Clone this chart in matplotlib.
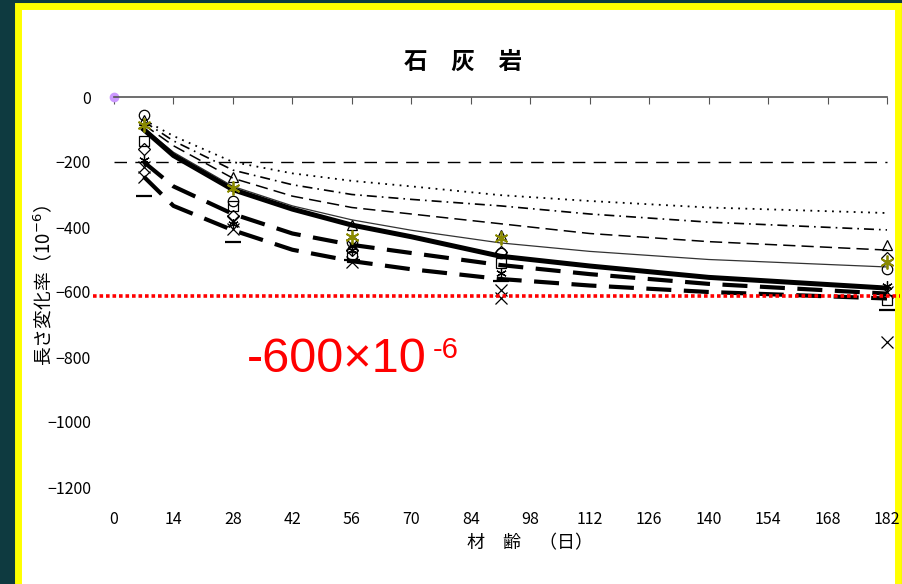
import matplotlib
matplotlib.use("Agg")
import matplotlib.pyplot as plt
from matplotlib.patches import Rectangle

plt.rcParams['font.family'] = ['Noto Sans CJK JP', 'DejaVu Sans']

curve_age = [7, 14, 28, 42, 56, 70, 91, 112, 140, 182]
curve_dotted = [-70, -120, -200, -235, -258, -275, -302, -320, -340, -357]
curve_dashdot = [-75, -135, -225, -270, -300, -315, -335, -360, -385, -409]
curve_dashed = [-85, -150, -250, -305, -340, -360, -390, -420, -445, -471]
curve_thin = [-95, -170, -275, -335, -378, -410, -449, -475, -500, -523]
curve_thick = [-100, -180, -285, -345, -394, -430, -490, -520, -555, -588]
curve_long1 = [-200, -275, -360, -420, -455, -480, -517, -545, -575, -605]
curve_long2 = [-245, -335, -410, -470, -505, -530, -560, -580, -600, -620]

# measured points
pt_age = [7, 28, 56, 91, 182]
pt_circle = [-55, -320, -445, -480, -528]
pt_square = [-135, -335, -492, -510, -625]
pt_diamond = [-160, -365, -470, -478, -495]
pt_triangle = [-70, -245, -395, -425, -455]
pt_star = [-85, -280, -430, -433, -508]
pt_x1 = [-215, -405, -508, -595, -755]
pt_x2 = [-245, -380, -455, -618, -600]
pt_bar = [-305, -446, -500, -565, -655]
pt_ast = [-195, -390, -470, -540, -580]

limit_line = -612
ref_line = -200

fig = plt.figure(figsize=(9.03, 5.84), dpi=100)
fig.patch.set_facecolor('#0e3a40')
fig.patches.append(Rectangle((18 / 903, -0.05), 880 / 903, 1.04, transform=fig.transFigure,
                             facecolor='white', edgecolor='#ffff00', linewidth=5, zorder=-1))

ax = fig.add_axes([114 / 903, 1 - 487 / 584, 773 / 903, 390 / 584])
ax.set_facecolor('none')

k = dict(color='black', clip_on=False)
ax.plot([0, 182], [ref_line, ref_line], lw=1.0, ls=(0, (9, 6)), **k)
ax.plot(curve_age, curve_dotted, lw=1.3, ls=(0, (1, 3)), **k)
ax.plot(curve_age, curve_dashdot, lw=1.2, ls=(0, (6, 3, 1, 3)), **k)
ax.plot(curve_age, curve_dashed, lw=1.1, ls=(0, (8, 4)), **k)
ax.plot(curve_age, curve_thin, lw=0.9, color='#333333', clip_on=False)
ax.plot(curve_age, curve_thick, lw=3.6, **k)
ax.plot(curve_age, curve_long1, lw=3.0, ls=(0, (6, 3)), **k)
ax.plot(curve_age, curve_long2, lw=3.0, ls=(0, (6, 3)), **k)

mk = dict(ls='none', mfc='none', mec='black', mew=0.9, ms=7.5, clip_on=False)
ax.plot(pt_age, pt_circle, marker='o', **mk)
ax.plot(pt_age, pt_square, marker='s', **mk)
ax.plot(pt_age, pt_diamond, marker='D', **dict(mk, ms=6.5))
ax.plot(pt_age, pt_triangle, marker='^', **mk)
ax.plot(pt_age, pt_x1, marker='x', **dict(mk, ms=9))
ax.plot(pt_age, pt_x2, marker='x', **dict(mk, ms=9))
ax.plot(pt_age, pt_bar, marker='_', **dict(mk, ms=11, mew=1.6))
ax.plot(pt_age, pt_ast, marker=(6, 2, 0), **mk)
ax.plot(pt_age, pt_star, marker=(6, 2, 0), ls='none', mec='#8a8a00', mew=1.3, ms=10, clip_on=False)

ax.plot([0], [0], marker='o', color='#cc99ff', ms=6, clip_on=False)

# red limit line across the slide
ax.plot([-5, 185], [limit_line, limit_line], color='#ff0000', lw=2.6, ls=(0, (1, 0.8)), clip_on=False)

ax.set_xlim(0, 182)
ax.set_ylim(-1200, 0)
ax.set_xticks(range(0, 183, 14))
ax.set_yticks(range(0, -1201, -200))
for s in ['left', 'right', 'bottom']:
    ax.spines[s].set_visible(False)
ax.spines['top'].set_color('#555555')
ax.spines['top'].set_linewidth(1.2)
ax.tick_params(axis='x', top=True, bottom=False, labeltop=False, labelbottom=True,
               direction='in', length=5, color='#555555', pad=17, labelsize=11.5)
ax.tick_params(axis='y', left=False, pad=13, labelsize=11.5)

fig.text(463 / 903, 1 - 62 / 584, '石　灰　岩', ha='center', va='center', fontsize=17, fontweight='bold')
fig.text(45 / 903, 1 - 285 / 584, '長さ変化率（10$^{-6}$）', rotation=90, ha='center', va='center', fontsize=13.5)
fig.text(530 / 903, 1 - 543 / 584, '材　齢　（日）', ha='center', va='center', fontsize=13)

fig.text(247 / 903, 1 - 372 / 584, '-600×10', color='#ff0000', fontsize=35,
         family=['Liberation Sans', 'DejaVu Sans'], ha='left', va='baseline')
fig.text(433 / 903, 1 - 358 / 584, '-6', color='#ff0000', fontsize=21,
         family=['Liberation Sans', 'DejaVu Sans'], ha='left', va='baseline')

fig.savefig('out.png', dpi=100)
